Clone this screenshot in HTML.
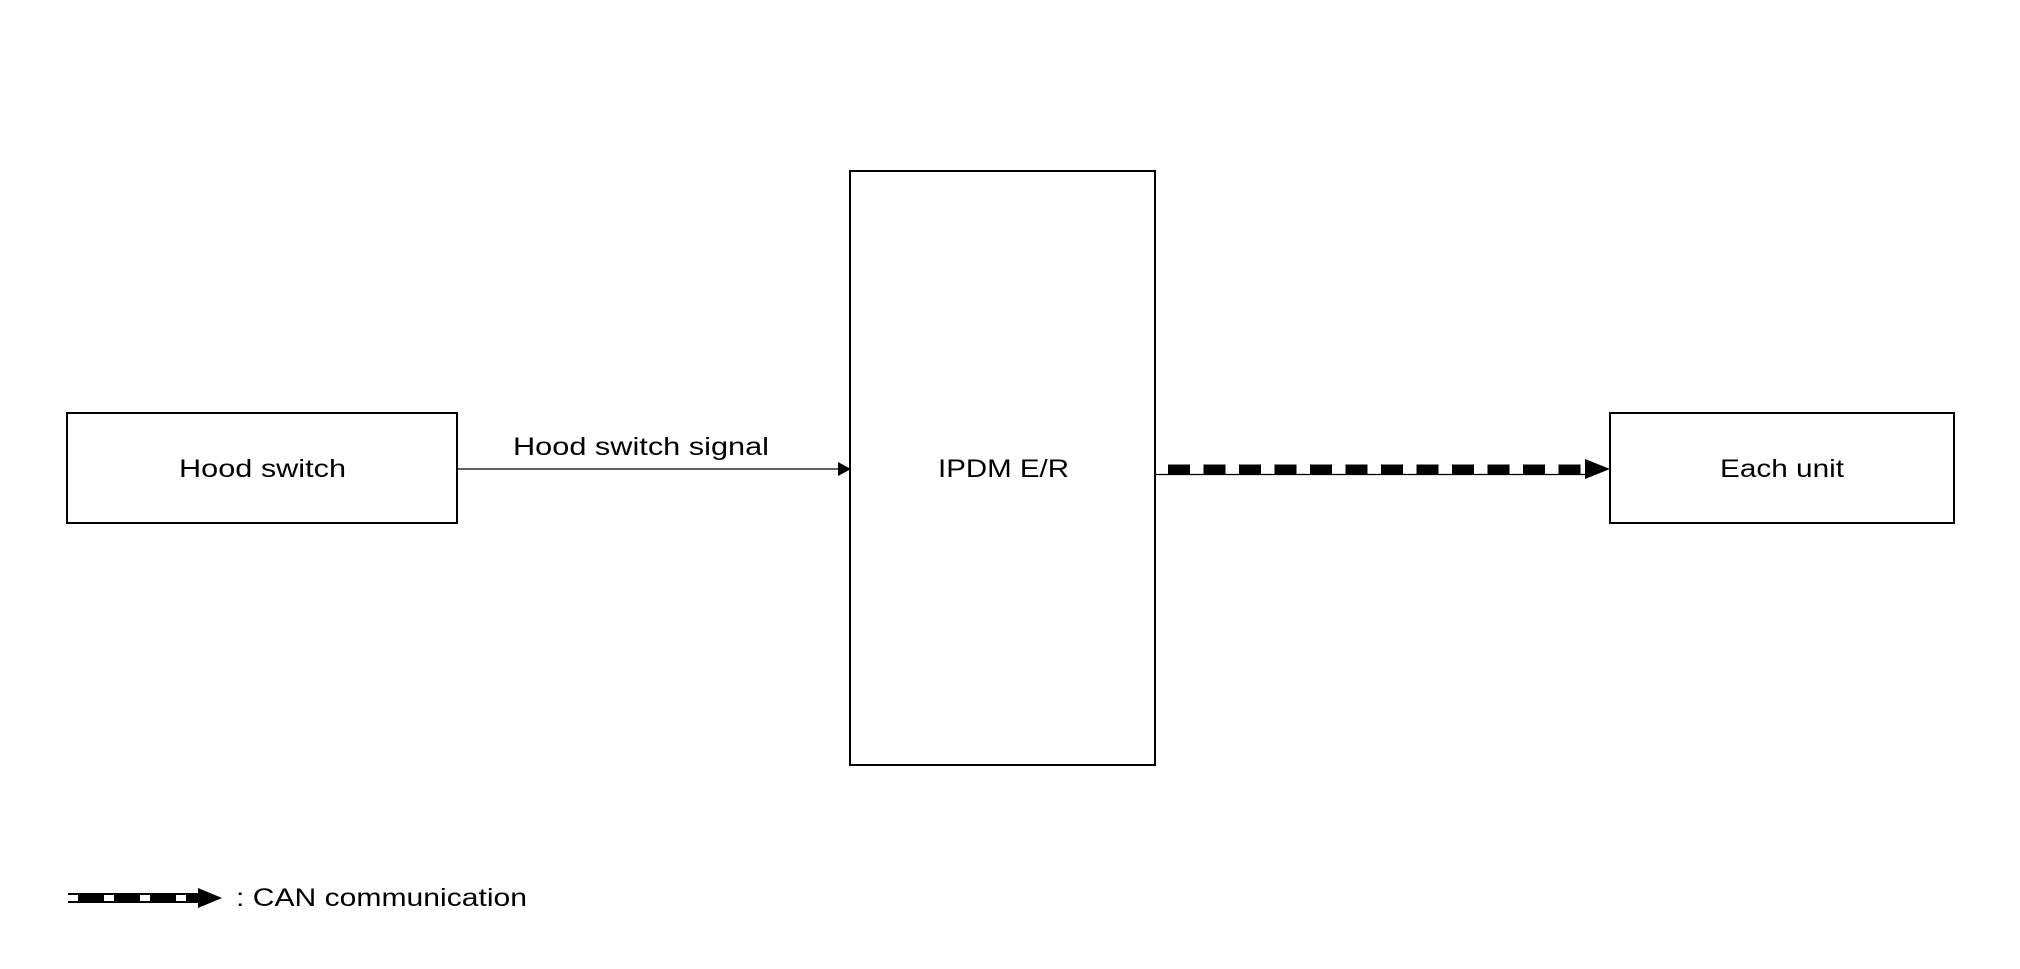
<!DOCTYPE html>
<html><head><meta charset="utf-8"><style>html,body{margin:0;padding:0;background:#fff}svg{display:block}</style></head>
<body>
<svg width="2020" height="969" viewBox="0 0 2020 969" xmlns="http://www.w3.org/2000/svg" font-family="Liberation Sans, Arial, sans-serif" font-size="25" fill="#000">
<rect width="2020" height="969" fill="#fff"/>
<rect x="67" y="413" width="390" height="110" fill="none" stroke="#000" stroke-width="2"/>
<rect x="850" y="171" width="305" height="594" fill="none" stroke="#000" stroke-width="2"/>
<rect x="1610" y="413" width="344" height="110" fill="none" stroke="#000" stroke-width="2"/>
<text x="179" y="477" textLength="167" lengthAdjust="spacingAndGlyphs">Hood switch</text>
<text x="938" y="477" textLength="131" lengthAdjust="spacingAndGlyphs">IPDM E/R</text>
<text x="1720" y="477" textLength="124" lengthAdjust="spacingAndGlyphs">Each unit</text>
<text x="513" y="455" textLength="256" lengthAdjust="spacingAndGlyphs">Hood switch signal</text>
<line x1="457" y1="469" x2="840" y2="469" stroke="#000" stroke-width="1.3"/>
<polygon points="838,462 851,469 838,476" fill="#000"/>
<line x1="1155" y1="474.5" x2="1585" y2="474.5" stroke="#000" stroke-width="1.3"/>
<line x1="1168" y1="469.5" x2="1585" y2="469.5" stroke="#000" stroke-width="10" stroke-dasharray="22 13.5"/>
<polygon points="1585,459 1610,469 1585,479" fill="#000"/>
<rect x="68" y="893" width="130" height="10" fill="#000"/>
<rect x="68" y="895" width="10" height="6" fill="#fff"/>
<rect x="104" y="895" width="10" height="6" fill="#fff"/>
<rect x="140" y="895" width="10" height="6" fill="#fff"/>
<rect x="176" y="895" width="10" height="6" fill="#fff"/>
<polygon points="198,888 222,898 198,908" fill="#000"/>
<text x="236" y="906" textLength="291" lengthAdjust="spacingAndGlyphs">: CAN communication</text>
</svg>
</body></html>
